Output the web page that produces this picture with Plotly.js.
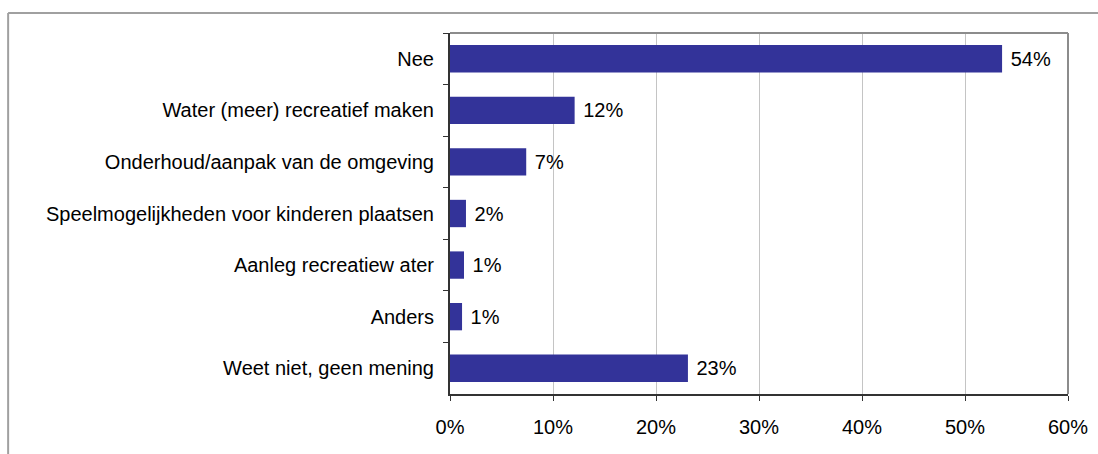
<!DOCTYPE html>
<html>
<head>
<meta charset="utf-8">
<script src="https://cdn.plot.ly/plotly-3.0.1.min.js"></script>
<style>html,body{margin:0;padding:0;background:#fff;}#chart{width:1098px;height:454px;}</style>
</head>
<body>
<div id="chart"></div>
<script>
var categories = [
  "Nee",
  "Water (meer) recreatief maken",
  "Onderhoud/aanpak van de omgeving",
  "Speelmogelijkheden voor kinderen plaatsen",
  "Aanleg recreatiew ater",
  "Anders",
  "Weet niet, geen mening"
];
var values = [53.6, 12.1, 7.4, 1.55, 1.36, 1.17, 23.1];
var xTickVals = [0, 10, 20, 30, 40, 50, 60];
var xTickText = ["0%", "10%", "20%", "30%", "40%", "50%", "60%"];

var font = {family: "Liberation Sans, Arial, sans-serif", size: 20, color: "#000"};

var trace = {
  type: "bar",
  orientation: "h",
  y: categories,
  x: values,
  marker: {color: "#333399"},
  texttemplate: "\u00a0%{x:.0f}%",
  textposition: "outside",
  cliponaxis: false,
  constraintext: "none",
  textfont: font,
  hoverinfo: "none"
};

var layout = {
  width: 1098, height: 454,
  margin: {l: 450, r: 30, t: 33, b: 60, pad: 0},
  paper_bgcolor: "#fff", plot_bgcolor: "#fff",
  font: font,
  showlegend: false,
  bargap: 0.47,
  xaxis: {
    range: [0, 60],
    tickvals: xTickVals, ticktext: xTickText,
    showgrid: true, gridcolor: "#c4c4c4", gridwidth: 1,
    showline: true, linecolor: "#333", linewidth: 2,
    ticks: "outside", ticklen: 5, tickcolor: "#333", tickwidth: 1,
    zeroline: false, fixedrange: true,
    tickfont: font,
    ticklabelstandoff: 9
  },
  yaxis: {
    autorange: "reversed",
    type: "category",
    showline: true, linecolor: "#333", linewidth: 2,
    ticks: "outside", ticklen: 5, tickcolor: "#333", tickwidth: 1,
    tickson: "boundaries",
    showgrid: false, zeroline: false, fixedrange: true,
    tickfont: font,
    ticklabelstandoff: 10
  },
  shapes: [
    {type: "line", xref: "paper", yref: "paper", x0: 0, x1: 1, y0: 1, y1: 1, line: {color: "#8c8c8c", width: 2}},
    {type: "line", xref: "paper", yref: "paper", x0: 1, x1: 1, y0: 0, y1: 1, line: {color: "#8c8c8c", width: 2}},
    {type: "line", xref: "paper", yref: "paper", x0: -0.715, x1: 1.1, y0: 1.0554, y1: 1.0554, line: {color: "#a0a0a0", width: 2}},
    {type: "line", xref: "paper", yref: "paper", x0: -0.715, x1: -0.715, y0: -0.2, y1: 1.0554, line: {color: "#a0a0a0", width: 2}}
  ]
};

Plotly.newPlot("chart", [trace], layout, {displayModeBar: false, staticPlot: true});
</script>
</body>
</html>
